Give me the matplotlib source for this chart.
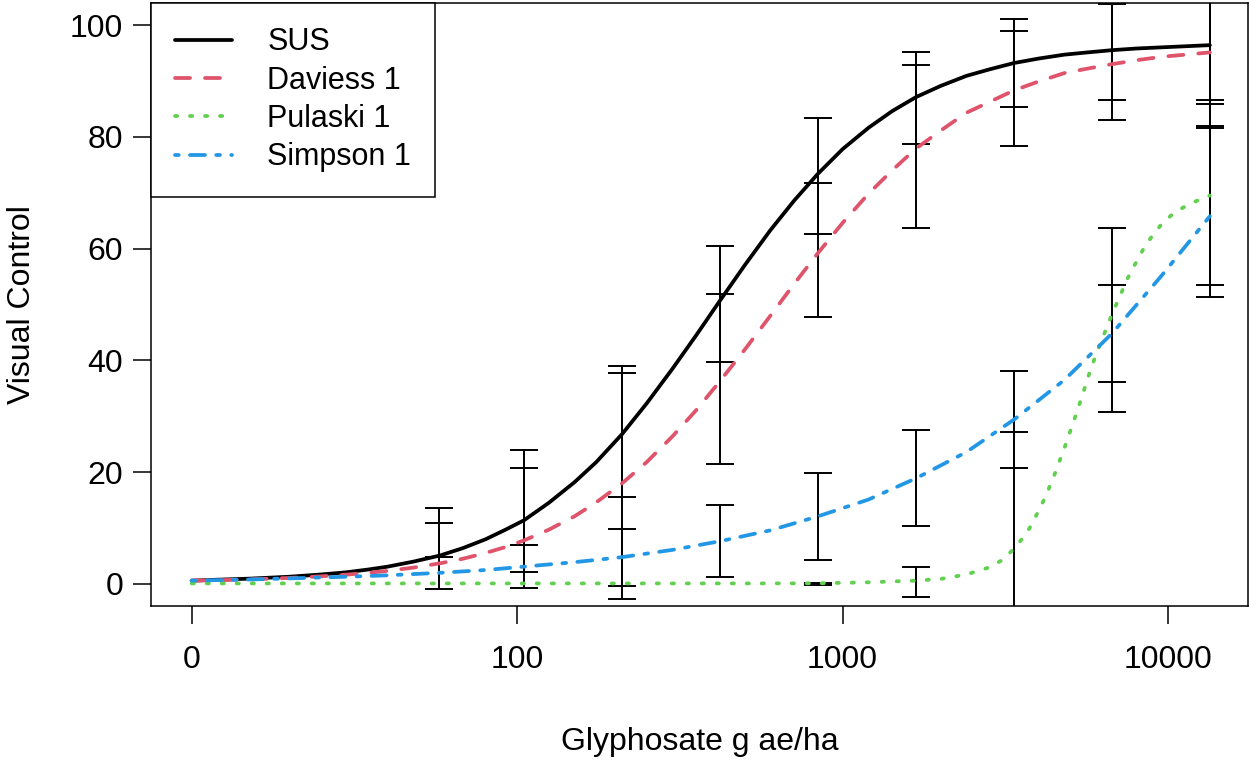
#!/usr/bin/env python3

# dose-response curves, glyphosate visual control

import matplotlib
matplotlib.use('Agg')
import matplotlib.pyplot as plt

# fitted curves (dose 0 sits at 10 on the log axis)
doses = [10, 12.5, 15, 20, 25, 30, 35, 40, 48, 58, 68, 80, 92, 105, 125,
         150, 175, 210, 250, 300, 355, 420, 500, 600, 710, 840, 1000, 1200,
         1420, 1680, 2000, 2400, 2840, 3360, 4000, 4800, 5650, 6720, 8000,
         9500, 11300, 13440]
sus = [0.6, 0.8, 0.95, 1.3, 1.7, 2.1, 2.6, 3.1, 4.0, 5.1, 6.4, 8.0, 9.7,
       11.4, 14.5, 18.2, 21.8, 26.8, 32.3, 38.5, 44.5, 50.7, 57.0, 63.3,
       68.6, 73.4, 77.8, 81.6, 84.6, 87.1, 89.1, 90.9, 92.1, 93.2, 94.0,
       94.7, 95.1, 95.5, 95.8, 96.0, 96.2, 96.4]
daviess = [0.6, 0.7, 0.82, 1.08, 1.37, 1.68, 2.0, 2.35, 2.93, 3.7, 4.5,
           5.55, 6.6, 7.8, 9.7, 12.1, 14.6, 18.0, 21.8, 26.4, 31.1, 36.3,
           41.9, 48.0, 53.7, 59.2, 64.6, 69.8, 74.0, 77.9, 81.1, 84.3, 86.3,
           88.3, 89.9, 91.4, 92.2, 93.0, 93.7, 94.3, 94.7, 95.1]

simpson_doses = [10, 15, 20, 30, 40, 58, 80, 105, 150, 210, 300, 420, 600,
                 840, 1200, 1680, 2400, 3360, 4800, 6720, 9500, 13440]
simpson = [0.6, 0.8, 1.0, 1.3, 1.55, 2.0, 2.5, 3.1, 3.9, 4.8, 6.1, 7.65,
           9.6, 12.1, 15.1, 18.9, 23.6, 29.4, 36.5, 44.8, 55.0, 65.8]

pulaski_doses = [10, 100, 500, 840, 1200, 1680, 2000, 2400, 2800, 3100,
                 3360, 3600, 3800, 4200, 4500, 4800, 5100, 5400, 5700, 6000,
                 6720, 7500, 8000, 8500, 9000, 9500, 10200, 11000, 12200,
                 13440]
pulaski = [0.1, 0.1, 0.1, 0.12, 0.3, 0.6, 0.9, 1.7, 2.9, 4.3,
           6.3, 8.4, 10.5, 15.6, 19.9, 24.3, 28.7, 33.0, 37.3, 41.0,
           48.2, 54.6, 57.7, 60.5, 62.5, 64.2, 65.9, 67.2, 68.5,
           69.5]

# error bars (low, high) at each dose
bar_dose = [57.5, 57.5,
            105, 105, 105,
            210, 210, 210,
            420, 420, 420,
            840, 840, 840, 840,
            1680, 1680, 1680, 1680,
            3360, 3360, 3360, 3360,
            6720, 6720, 6720, 6720,
            13440, 13440, 13440, 13440]
bar_lo = [-0.9, 4.9,
          -0.8, 2.2, 7.0,
          15.6, -2.6, -0.36,
          39.8, 21.5, 1.2,
          62.6, 47.7, 4.3, -0.25,
          78.8, 63.7, 10.3, -2.3,
          85.3, 78.4, 20.75, -15.2,
          86.6, 83.0, 36.2, 30.8,
          85.9, 81.6, 53.5, 51.3]
bar_hi = [10.9, 13.65,
          23.9, 20.7, 7.0,
          39.0, 37.7, 9.9,
          60.5, 51.8, 14.1,
          83.4, 71.7, 19.9, 0.25,
          95.1, 92.8, 27.6, 3.0,
          101.1, 99.0, 38.05, 27.2,
          103.7, 105.0, 53.4, 63.6,
          106.7, 109.0, 86.5, 82.0]

x_ticks = [10, 100, 1000, 10000]
x_ticklabels = ['0', '100', '1000', '10000']
y_ticks = [0, 20, 40, 60, 80, 100]

plt.rcParams['font.family'] = ['Liberation Sans', 'DejaVu Sans']
plt.rcParams['font.size'] = 22

W, H = 1249, 762
fig = plt.figure(figsize=(W / 100, H / 100), dpi=100)
ax = fig.add_axes([151 / W, 1 - 606 / H, (1248 - 151) / W, (606 - 3) / H])

# bars first, curves on top
for d, lo, hi in zip(bar_dose, bar_lo, bar_hi):
    mid = (lo + hi) / 2
    ax.errorbar([d], [mid], yerr=[[mid - lo], [hi - mid]], fmt='none',
                ecolor='black', elinewidth=1.4, capsize=9.8, capthick=1.4,
                zorder=2)

lw = 2.7
ax.plot(doses, sus, color='black', lw=lw, solid_capstyle='round',
        solid_joinstyle='round', label='SUS', zorder=3)
ax.plot(doses, daviess, color='#DF536B', lw=lw, dashes=(4, 4),
        dash_capstyle='round', label='Daviess 1', zorder=3)
ax.plot(pulaski_doses, pulaski, color='#61D04F', lw=lw, dashes=(0.6, 3.4),
        dash_capstyle='round', label='Pulaski 1', zorder=3)
ax.plot(simpson_doses, simpson, color='#2297E6', lw=lw, dashes=(1, 3, 4, 3),
        dash_capstyle='round', label='Simpson 1', zorder=3)

ax.set_xscale('log')
ax.set_xlim(7.5, 17600)
ax.set_ylim(-3.94, 103.94)
ax.set_xticks(x_ticks)
ax.set_xticklabels(x_ticklabels)
ax.xaxis.set_minor_locator(matplotlib.ticker.NullLocator())
ax.set_yticks(y_ticks)
ax.tick_params(axis='both', direction='out', length=13, width=1.1,
               colors='black', labelsize=23)
ax.tick_params(axis='x', pad=15)
ax.tick_params(axis='y', pad=7)
for sp in ax.spines.values():
    sp.set_linewidth(1.1)
    sp.set_color('black')

ax.set_xlabel('Glyphosate g ae/ha', fontsize=23)
ax.xaxis.label.set_va('center')
ax.xaxis.set_label_coords(0.5, -0.2255)
ax.set_ylabel('Visual Control', fontsize=23)
ax.yaxis.label.set_va('center')
ax.yaxis.set_label_coords(-0.1176, 0.5)

leg = ax.legend(loc='upper left', bbox_to_anchor=(0, 1), borderaxespad=0,
                fancybox=False, framealpha=1, edgecolor='black',
                handlelength=1.85, handletextpad=1.15, borderpad=0.8,
                labelspacing=0.27)
leg.get_frame().set_linewidth(1.1)

fig.savefig('out.png', dpi=100)
